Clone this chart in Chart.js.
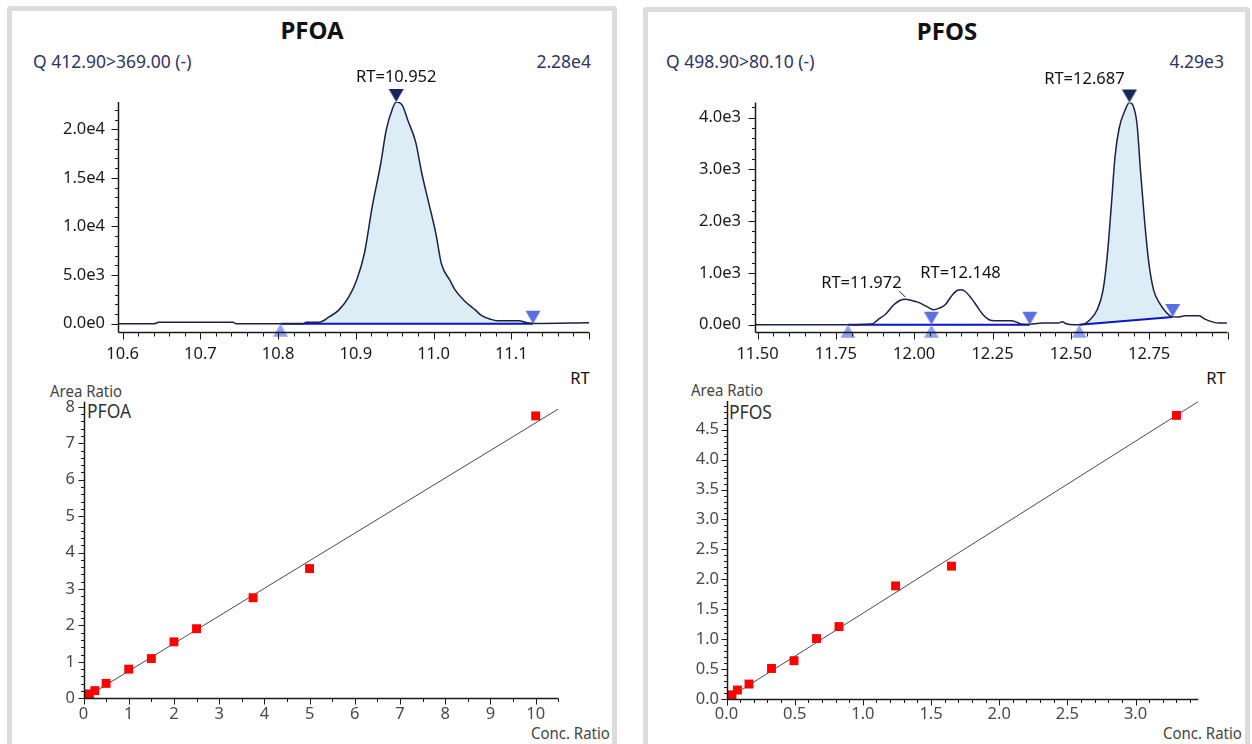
<!DOCTYPE html>
<html>
<head>
<meta charset="utf-8">
<title>PFOA / PFOS</title>
<script src="https://cdn.jsdelivr.net/npm/chart.js@4.4.1/dist/chart.umd.min.js"></script>
<style>
  html, body { margin:0; padding:0; background:#fff; }
  body { width:1252px; height:744px; overflow:hidden; position:relative; font-family:'Noto Sans', sans-serif; }
  .panel { position:absolute; box-sizing:border-box; border:5px solid #dcdcdc; border-bottom:0; border-radius:4px 4px 0 0; }
  .txt { position:absolute; white-space:nowrap; line-height:1; }
  .c { transform:translate(-50%,-50%); }
  .l { transform:translate(0,-50%); }
  .r { transform:translate(-100%,-50%); }
  .title { font-weight:700; font-size:24px; color:#111; }
  .hdr { font-size:17.5px; color:#30345f; }
  .rt { font-size:16.5px; color:#111; }
  .cal { font-size:17px; color:#444; transform-origin:0 50%; }
  .cal.l { transform:translate(0,-50%) scaleX(0.88); }
  .inner { font-size:19px; color:#333; transform-origin:0 50%; }
  .inner.l { transform:translate(0,-50%) scaleX(0.92); }
  canvas { position:absolute; }
</style>
</head>
<body>
<div class="panel" style="left:7px;top:6px;width:610px;height:800px;"></div>
<div class="panel" style="left:643px;top:7px;width:607px;height:800px;"></div>

<div class="txt title c" style="left:312px;top:30px;">PFOA</div>
<div class="txt hdr l" style="left:33px;top:62px;">Q 412.90&gt;369.00 (-)</div>
<div class="txt hdr r" style="left:591px;top:62px;">2.28e4</div>
<div class="txt rt c" style="left:580px;top:378px;">RT</div>
<div class="txt cal l" style="left:50px;top:390px;">Area Ratio</div>
<div class="txt inner l" style="left:87px;top:411px;">PFOA</div>
<div class="txt cal l" style="left:531px;top:732px;">Conc. Ratio</div>

<div class="txt title c" style="left:947px;top:31px;">PFOS</div>
<div class="txt hdr l" style="left:666px;top:62px;">Q 498.90&gt;80.10 (-)</div>
<div class="txt hdr r" style="left:1224px;top:62px;">4.29e3</div>
<div class="txt rt c" style="left:1216px;top:378px;">RT</div>
<div class="txt cal l" style="left:691px;top:389px;">Area Ratio</div>
<div class="txt inner l" style="left:729px;top:412px;">PFOS</div>
<div class="txt cal l" style="left:1163px;top:732px;">Conc. Ratio</div>

<canvas id="c1" width="590" height="320" style="left:20px;top:50px;"></canvas>
<canvas id="c2" width="590" height="320" style="left:655px;top:50px;"></canvas>
<canvas id="c3" width="590" height="364" style="left:20px;top:380px;"></canvas>
<canvas id="c4" width="590" height="364" style="left:655px;top:380px;"></canvas>

<script>
// ================= DATA =================
// PFOA chromatogram (RT in min, intensity)
const pfoaTime   = [10.594,10.641,10.646,10.742,10.746,10.832,10.836,10.853,10.866,10.878,10.891,10.901,10.911,10.921,10.932,10.939,10.947,10.952,10.960,10.967,10.977,10.985,10.993,11.003,11.010,11.021,11.028,11.041,11.054,11.061,11.074,11.082,11.110,11.120,11.130,11.200];
const pfoaSignal = [0,0,150,150,0,0,150,150,720,1400,2770,4480,7220,12000,16450,19870,22090,22800,22430,20900,18670,15420,12690,9270,6190,4480,3450,2260,1400,890,445,310,310,100,30,100];
const pfoaMaxSignal = 22800;
const pfoaPeakRT = [10.952];
const pfoaBounds = [10.803, 11.128];
const pfoaBaseline = [0, 0];
const pfoaChromXTicks = [10.6, 10.7, 10.8, 10.9, 11.0, 11.1];
const pfoaChromYTicks = [0, 5000, 10000, 15000, 20000];

// PFOS chromatogram
const pfosTime   = [11.492,11.497,11.789,11.865,11.884,11.910,11.935,11.954,11.973,11.992,12.011,12.030,12.049,12.061,12.080,12.099,12.118,12.137,12.150,12.163,12.182,12.201,12.220,12.239,12.258,12.308,12.327,12.340,12.359,12.384,12.409,12.460,12.473,12.485,12.511,12.536,12.561,12.584,12.603,12.616,12.629,12.641,12.654,12.673,12.687,12.698,12.711,12.723,12.736,12.749,12.764,12.783,12.802,12.821,12.840,12.865,12.909,12.928,12.954,12.973,12.998];
const pfosSignal = [30,0,0,13,96,212,385,469,494,469,437,385,321,289,321,385,546,661,674,642,514,353,193,96,77,77,51,13,6,19,32,32,58,19,0,6,96,289,674,1316,2279,3242,3788,4141,4290,4237,3884,2921,1958,1188,674,417,257,161,148,173,173,109,51,32,32];
const pfosMaxSignal = 4290;
const pfosPeakRT = [11.972, 12.148, 12.687];
const pfosMinorBounds = [11.789, 12.055, 12.369];   // start, valley, end of the small peaks
const pfosBounds = [12.527, 12.825];
const pfosBaseline = [0, 150];
const pfosChromXTicks = [11.5, 11.75, 12.0, 12.25, 12.5, 12.75];
const pfosChromYTicks = [0, 1000, 2000, 3000, 4000];

// Calibration curves
const pfoaConc = [0.13, 0.25, 0.5, 1, 1.5, 2, 2.5, 3.75, 5, 10];
const pfoaArea = [0.12, 0.21, 0.41, 0.80, 1.09, 1.55, 1.91, 2.76, 3.56, 7.75];
const pfoaFit  = [0.757, -0.01];   // slope, intercept
const pfoaCalXTicks = [0,1,2,3,4,5,6,7,8,9,10];
const pfoaCalYTicks = [0,1,2,3,4,5,6,7,8];

const pfosConc = [0.04, 0.08, 0.165, 0.33, 0.495, 0.66, 0.825, 1.24, 1.65, 3.30];
const pfosArea = [0.07, 0.15, 0.25, 0.51, 0.64, 1.01, 1.21, 1.89, 2.22, 4.74];
const pfosFit  = [1.438, -0.005];
const pfosCalXTicks = [0, 0.5, 1.0, 1.5, 2.0, 2.5, 3.0];
const pfosCalYTicks = [0, 0.5, 1.0, 1.5, 2.0, 2.5, 3.0, 3.5, 4.0, 4.5];

// ================= HELPERS =================
const pts = (xs, ys) => xs.map((x, i) => ({ x, y: ys[i] }));
const heightAt = (xs, ys, t) => {
  let best = 0;
  xs.forEach((x, i) => { if (Math.abs(x - t) < Math.abs(xs[best] - t)) best = i; });
  return ys[best];
};
function triImg(color, down) {
  const c = document.createElement('canvas'); c.width = 16; c.height = 28;
  const g = c.getContext('2d'); g.fillStyle = color; g.beginPath();
  if (down) { g.moveTo(0.5, 1); g.lineTo(15.5, 1); g.lineTo(8, 14); }
  else { g.moveTo(8, 14); g.lineTo(15.5, 27); g.lineTo(0.5, 27); }
  g.closePath(); g.fill(); return c;
}
const triApex = triImg('#17245a', true);
const triEnd  = triImg('#5c6fe0', true);
const triStart = triImg('#8ea0f3', false);

const decor = {};   // per-canvas axis tick & label decoration
function tickList(a) {
  const out = [], n = Math.round((a.end - a.start) / a.minor);
  for (let i = 0; i <= n; i++) {
    const r = (i * a.minor) / a.major;
    out.push({ v: a.start + i * a.minor, major: Math.abs(r - Math.round(r)) < 1e-6 });
  }
  return out;
}
const axisDecor = {
  id: 'axisDecor',
  afterDatasetsDraw(chart) {
    const d = decor[chart.canvas.id]; if (!d) return;
    const ctx = chart.ctx, A = chart.chartArea, xs = chart.scales.x, ys = chart.scales.y;
    const L = Math.round(A.left) + 0.5, B = Math.round(A.bottom) + 0.5;
    ctx.save();
    ctx.strokeStyle = d.color;
    ctx.lineWidth = 1.5;
    ctx.beginPath();
    ctx.moveTo(L, A.top); ctx.lineTo(L, B);
    ctx.moveTo(L, B); ctx.lineTo(A.right, B);
    ctx.stroke();
    ctx.lineWidth = 1;
    ctx.beginPath();
    for (const t of tickList(d.x)) {
      const px = Math.round(xs.getPixelForValue(t.v)) + 0.5;
      ctx.moveTo(px, B); ctx.lineTo(px, B + (t.major ? d.x.majorLen : d.x.minorLen));
    }
    for (const t of tickList(d.y)) {
      const py = Math.round(ys.getPixelForValue(t.v)) + 0.5;
      ctx.moveTo(L, py); ctx.lineTo(L - (t.major ? d.y.majorLen : d.y.minorLen), py);
    }
    ctx.stroke();
    if (d.labels) {
      ctx.fillStyle = '#111';
      ctx.font = "16.5px 'Noto Sans', sans-serif";
      ctx.textAlign = 'center'; ctx.textBaseline = 'middle';
      for (const it of d.labels) {
        const px = xs.getPixelForValue(it.x), py = ys.getPixelForValue(it.y);
        ctx.fillText(it.text, px + it.dx, py + it.dy);
        if (it.leader) {
          ctx.beginPath();
          ctx.moveTo(px + it.leader[0], py + it.leader[1]);
          ctx.lineTo(px + it.leader[2], py + it.leader[3]);
          ctx.strokeStyle = '#111'; ctx.lineWidth = 1; ctx.stroke();
        }
      }
    }
    ctx.restore();
  }
};
Chart.register(axisDecor);
Chart.defaults.font.family = "'Noto Sans', sans-serif";

const markerSet = (xs, ys, img) => ({
  data: pts(xs, ys), showLine: false, pointStyle: img, pointRadius: 5,
  clip: false, order: 1
});

function baseOptions(c) {
  return {
    responsive: false, animation: false, events: [],
    layout: { padding: { top: c.padTop, right: c.padRight, left: 0, bottom: 0 } },
    plugins: { legend: { display: false }, tooltip: { enabled: false } },
    scales: {
      x: {
        type: 'linear', min: c.xMin, max: c.xMax,
        grid: { display: false, drawTicks: false }, border: { display: false },
        ticks: { padding: c.xPad, autoSkip: false, maxRotation: 0, color: c.tickColor,
                 font: c.tickFont, callback: v => v.toFixed(c.xDec) },
        afterBuildTicks: s => { s.ticks = c.xTicks.map(v => ({ value: v })); },
        afterFit: s => { s.height = c.xHeight; }
      },
      y: {
        type: 'linear', min: c.yMin, max: c.yMax,
        grid: { display: false, drawTicks: false }, border: { display: false },
        ticks: { padding: c.yPad, autoSkip: false, color: c.tickColor, font: c.tickFont,
                 callback: c.yFmt },
        afterBuildTicks: s => { s.ticks = c.yTicks.map(v => ({ value: v })); },
        afterFit: s => { s.width = c.yWidth; }
      }
    }
  };
}
const expFmt = v => v.toExponential(1).replace('+', '');
const chromFont = { size: 16.5, family: "'Noto Sans', sans-serif" };
const calFont = { size: 16.5, family: "'Noto Sans', sans-serif" };

// ================= PFOA chromatogram =================
(function () {
  const trace = pts(pfoaTime, pfoaSignal);
  const fillPts = [{ x: pfoaBounds[0], y: pfoaBaseline[0] },
    ...trace.filter(p => p.x > pfoaBounds[0] && p.x < pfoaBounds[1]),
    { x: pfoaBounds[1], y: pfoaBaseline[1] }];
  decor.c1 = {
    color: '#1a1a1a',
    x: { start: 10.6, end: 11.2, minor: 0.02, major: 0.1, majorLen: 7, minorLen: 4 },
    y: { start: 0, end: 22000, minor: 1000, major: 5000, majorLen: 7, minorLen: 3.5 },
    labels: pfoaPeakRT.map(rt => ({ x: rt, y: heightAt(pfoaTime, pfoaSignal, rt),
      text: 'RT=' + rt.toFixed(3), dx: 0, dy: -25 }))
  };
  new Chart(document.getElementById('c1'), {
    type: 'line',
    data: { datasets: [
      { data: fillPts, fill: 1, backgroundColor: '#dcedf6', borderWidth: 0, pointRadius: 0, cubicInterpolationMode: 'monotone', order: 9 },
      { data: pts(pfoaBounds, pfoaBaseline), borderColor: '#0b17c4', borderWidth: 2, pointRadius: 0, fill: false, order: 8 },
      { data: trace, borderColor: '#1c2048', borderWidth: 1.5, pointRadius: 0, fill: false, cubicInterpolationMode: 'monotone', order: 7 },
      markerSet([pfoaBounds[0]], [pfoaBaseline[0]], triStart),
      markerSet([pfoaBounds[1]], [pfoaBaseline[1]], triEnd),
      markerSet(pfoaPeakRT, [pfoaMaxSignal], triApex)
    ]},
    options: baseOptions({
      padTop: 52, padRight: 21, xHeight: 38, yWidth: 98,
      xMin: 10.594, xMax: 11.2, yMin: -850, yMax: pfoaMaxSignal,
      xTicks: pfoaChromXTicks, yTicks: pfoaChromYTicks, xDec: 1, yFmt: expFmt,
      xPad: 12.4, yPad: 13, tickColor: '#1a1a1a', tickFont: chromFont
    })
  });
})();

// ================= PFOS chromatogram =================
(function () {
  const trace = pts(pfosTime, pfosSignal);
  const fillPts = [{ x: pfosBounds[0], y: pfosBaseline[0] },
    ...trace.filter(p => p.x > pfosBounds[0] && p.x < pfosBounds[1]),
    { x: pfosBounds[1], y: pfosBaseline[1] }];
  const offs = [{ dx: -44, dy: -16, leader: [-6, -8, 0, -2] }, { dx: 0, dy: -17 }, { dx: -45, dy: -23 }];
  decor.c2 = {
    color: '#1a1a1a',
    x: { start: 11.5, end: 13.0, minor: 0.05, major: 0.25, majorLen: 7, minorLen: 4 },
    y: { start: 0, end: 4200, minor: 200, major: 1000, majorLen: 7, minorLen: 3.5 },
    labels: pfosPeakRT.map((rt, i) => Object.assign({ x: rt, y: heightAt(pfosTime, pfosSignal, rt),
      text: 'RT=' + rt.toFixed(3) }, offs[i]))
  };
  new Chart(document.getElementById('c2'), {
    type: 'line',
    data: { datasets: [
      { data: fillPts, fill: 1, backgroundColor: '#dcedf6', borderWidth: 0, pointRadius: 0, cubicInterpolationMode: 'monotone', order: 9 },
      { data: pts(pfosBounds, pfosBaseline), borderColor: '#0b17c4', borderWidth: 2, pointRadius: 0, fill: false, order: 8 },
      { data: pts([pfosMinorBounds[0], pfosMinorBounds[2]], [0, 0]), borderColor: '#0b17c4', borderWidth: 2, pointRadius: 0, fill: false, order: 8 },
      { data: trace, borderColor: '#1c2048', borderWidth: 1.5, pointRadius: 0, fill: false, cubicInterpolationMode: 'monotone', order: 7 },
      markerSet([pfosMinorBounds[0], pfosMinorBounds[1], pfosBounds[0]], [0, 0, pfosBaseline[0]], triStart),
      markerSet([pfosMinorBounds[1], pfosMinorBounds[2], pfosBounds[1]], [0, 0, pfosBaseline[1]], triEnd),
      markerSet([pfosPeakRT[2]], [pfosMaxSignal], triApex)
    ]},
    options: baseOptions({
      padTop: 52.5, padRight: 17.5, xHeight: 38, yWidth: 100,
      xMin: 11.492, xMax: 13.0, yMin: -140, yMax: pfosMaxSignal,
      xTicks: pfosChromXTicks, yTicks: pfosChromYTicks, xDec: 2, yFmt: expFmt,
      xPad: 12.4, yPad: 14, tickColor: '#1a1a1a', tickFont: chromFont
    })
  });
})();

// ================= Calibration curves =================
function buildCal(id, conc, area, fit, xMax, yMax, xTicks, yTicks, dec, lay, dx, dy) {
  decor[id] = { color: '#1a1a1a', x: dx, y: dy };
  new Chart(document.getElementById(id), {
    type: 'line',
    data: { datasets: [
      { data: pts(conc, area), showLine: false, pointStyle: 'rect', pointRadius: 6.3,
        backgroundColor: '#ff0000', borderWidth: 0, clip: false, order: 1 },
      { data: [{ x: 0, y: fit[1] }, { x: xMax, y: fit[0] * xMax + fit[1] }],
        borderColor: '#4a4a4a', borderWidth: 1, pointRadius: 0, fill: false, order: 2 }
    ]},
    options: baseOptions(Object.assign({
      xMin: 0, xMax: xMax, yMin: 0, yMax: yMax, xTicks, yTicks, xDec: dec,
      yFmt: v => v.toFixed(dec), tickColor: '#4a4a4a', tickFont: calFont
    }, lay))
  });
}
buildCal('c3', pfoaConc, pfoaArea, pfoaFit, 10.5, 8.14, pfoaCalXTicks, pfoaCalYTicks, 0,
  { padTop: 21.7, padRight: 51.7, xHeight: 45.7, yWidth: 63.5, xPad: 6, yPad: 8.5 },
  { start: 0, end: 10.5, minor: 0.5, major: 1, majorLen: 6, minorLen: 3.5 },
  { start: 0, end: 8, minor: 0.2, major: 1, majorLen: 6, minorLen: 3.5 });
buildCal('c4', pfosConc, pfosArea, pfosFit, 3.46, 4.98, pfosCalXTicks, pfosCalYTicks, 1,
  { padTop: 21, padRight: 46.7, xHeight: 45, yWidth: 71.5, xPad: 5, yPad: 7.5 },
  { start: 0, end: 3.4, minor: 0.1, major: 0.5, majorLen: 6, minorLen: 3.5 },
  { start: 0, end: 4.9, minor: 0.1, major: 0.5, majorLen: 6, minorLen: 3.5 });
</script>
</body>
</html>
